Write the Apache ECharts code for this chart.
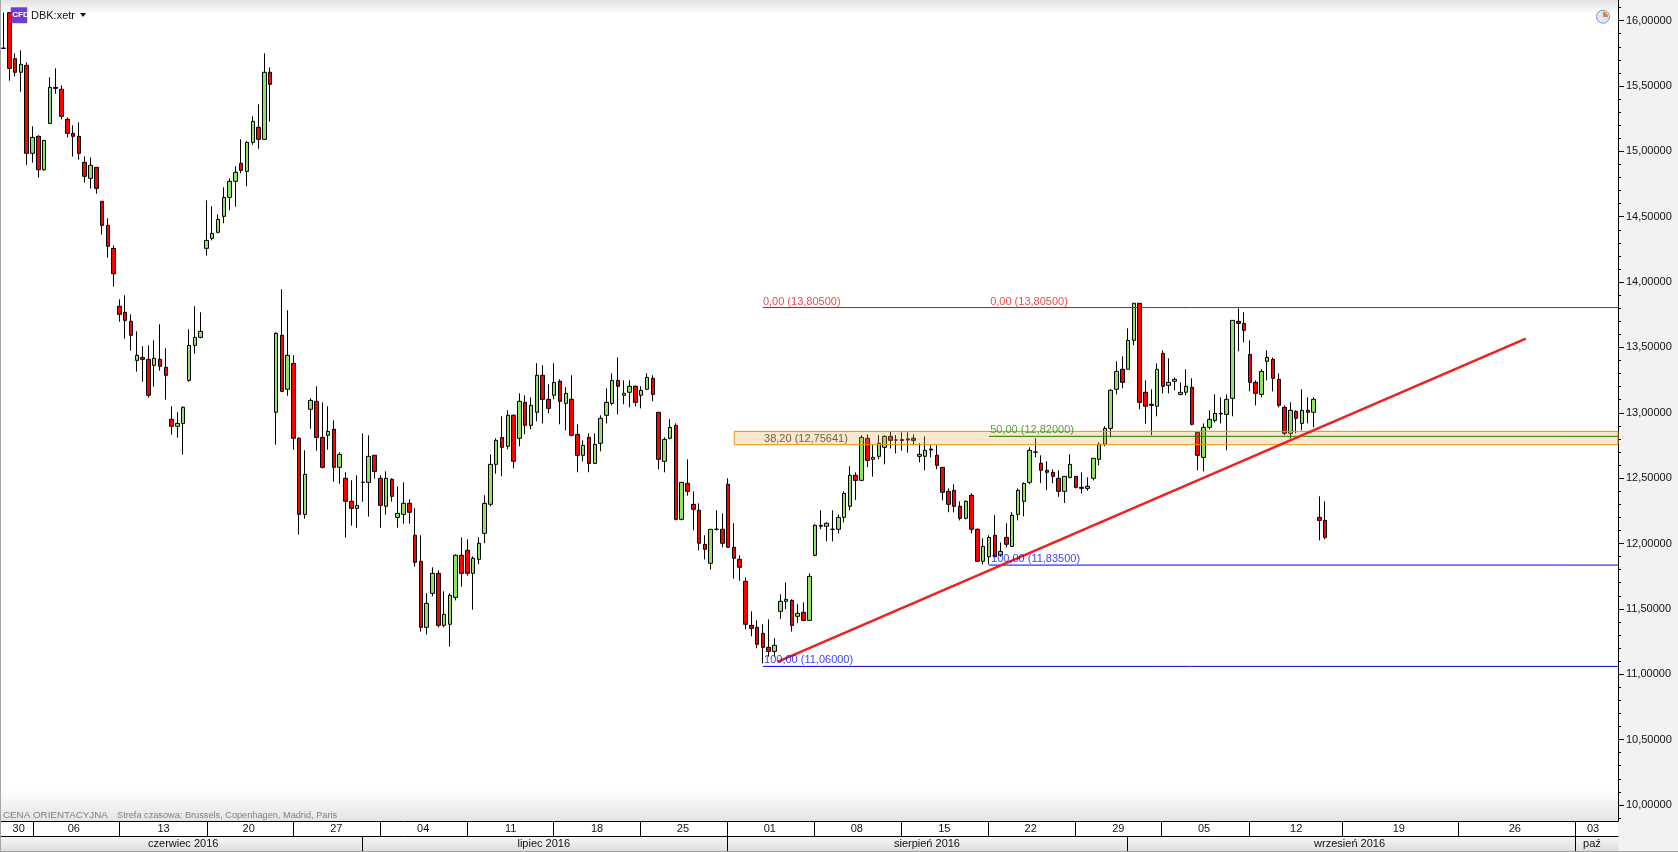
<!DOCTYPE html>
<html><head><meta charset="utf-8">
<style>html,body{margin:0;padding:0;background:#f2f2f2}#c{width:1678px;height:852px}</style>
<script src="https://cdn.jsdelivr.net/npm/echarts@6/dist/echarts.min.js"></script>
</head><body><div id="c"></div>
<script>
const direction =
"r"+"rrgrgrggrr"+"rrrrgrrrrr"+"rrgrrgrrrg"+"gggggggggg"+"rggrgrgrgr"+"rggrrgrgrr"+"grgrrgrggr"+"rrggrgggrr"+"gggggrgrgr"+"ggrrgrgrrg"+
"rggggrggrg"+"grrggrgrrr"+"rgrrrrrrrr"+"rrgggrgrgg"+"rgrgggrgrg"+"ggrrrrrggr"+"rrrrrgrrgg"+"rgrggggrrr"+"rrggrrgggg"+"ggrggrrrgr"+"ggggrrgggr"+"ggrrrrggrr"+"rgrgrgrr";
const bodyTop = [15.790,
16.061,15.709,15.666,15.658,15.107,15.115,15.084,15.490,15.490,15.475,
15.245,15.138,15.115,14.916,14.893,14.878,14.618,14.434,14.258,13.815,
13.769,13.700,13.440,13.424,13.409,13.417,13.409,13.348,12.950,12.919,
13.042,13.516,13.577,13.623,14.319,14.373,14.480,14.648,14.771,14.840,
14.909,15.069,15.230,15.184,15.605,15.605,13.608,13.593,13.440,13.378,
12.805,12.529,13.095,13.088,12.812,12.858,12.874,12.682,12.499,12.323,
12.292,12.468,12.667,12.675,12.499,12.499,12.491,12.231,12.308,12.308,
12.063,11.864,11.542,11.772,11.772,11.458,11.604,11.910,11.910,11.948,
11.887,12.002,12.307,12.606,12.789,12.812,12.981,12.981,13.088,13.080,
13.057,13.287,13.287,13.103,13.233,13.241,13.149,13.103,12.835,12.751,
12.812,12.759,12.958,13.080,13.248,13.248,13.149,13.203,13.203,13.172,
13.271,13.264,13.004,12.797,12.889,12.904,12.468,12.460,12.300,12.254,
11.994,12.109,12.109,12.109,12.453,11.971,11.879,11.711,11.374,11.359,
11.313,11.206,11.221,11.558,11.573,11.565,11.466,11.474,11.749,12.139,
12.139,12.155,12.109,12.200,12.384,12.522,12.522,12.812,12.805,12.659,
12.767,12.820,12.820,12.792,12.795,12.800,12.805,12.682,12.713,12.723,
12.675,12.583,12.399,12.407,12.285,12.323,12.369,12.109,11.978,12.047,
12.063,11.940,12.047,12.216,12.407,12.460,12.713,12.700,12.614,12.560,
12.545,12.499,12.514,12.606,12.514,12.430,12.438,12.652,12.759,12.881,
13.172,13.317,13.333,13.554,13.838,13.838,13.157,13.065,13.333,13.455,
13.233,13.256,13.157,13.203,13.195,12.851,12.889,12.950,12.996,12.996,
13.103,13.707,13.700,13.684,13.447,13.233,13.317,13.424,13.409,13.256,
13.042,13.019,13.011,13.019,13.019,13.103,12.200,12.177];
const bodyBottom = [15.788,
15.635,15.605,15.605,14.985,14.985,14.860,14.860,15.214,15.482,15.268,
15.138,15.115,14.985,14.809,14.794,14.717,14.434,14.274,14.064,13.753,
13.707,13.593,13.401,13.409,13.134,13.363,13.356,13.287,12.897,12.897,
12.919,13.248,13.516,13.577,14.258,14.335,14.381,14.503,14.648,14.771,
14.855,14.847,15.069,15.092,15.092,15.513,13.004,13.164,13.180,12.805,
12.223,12.223,13.027,12.812,12.583,12.828,12.583,12.583,12.323,12.269,
12.269,12.468,12.468,12.552,12.292,12.285,12.361,12.200,12.223,12.239,
11.856,11.359,11.359,11.619,11.374,11.374,11.382,11.588,11.772,11.772,
11.772,11.879,12.078,12.300,12.606,12.736,12.744,12.629,12.805,12.904,
12.904,13.004,13.103,13.034,13.134,13.088,13.072,12.828,12.675,12.675,
12.613,12.613,12.767,12.981,13.072,13.203,13.134,13.157,13.080,13.134,
13.180,13.141,12.644,12.629,12.805,12.185,12.185,12.399,12.262,12.002,
11.956,11.849,12.109,12.002,11.971,11.887,11.818,11.382,11.351,11.229,
11.206,11.175,11.175,11.481,11.558,11.374,11.443,11.412,11.412,11.910,
12.132,12.132,12.109,12.109,12.200,12.285,12.483,12.483,12.636,12.644,
12.667,12.736,12.789,12.792,12.787,12.792,12.789,12.667,12.667,12.715,
12.598,12.392,12.300,12.285,12.193,12.193,12.109,11.864,11.864,11.899,
11.899,11.912,11.994,11.978,12.223,12.323,12.468,12.698,12.560,12.545,
12.514,12.399,12.399,12.506,12.430,12.422,12.422,12.499,12.644,12.759,
12.881,13.180,13.233,13.333,13.554,13.080,13.050,13.057,13.050,13.203,
13.210,13.241,13.141,13.157,12.912,12.675,12.659,12.889,12.942,12.991,
12.988,13.111,13.684,13.631,13.233,13.149,13.141,13.394,13.264,13.057,
12.843,12.843,12.958,12.919,13.004,13.004,12.177,12.047];
const highs = [16.061,
16.061,15.750,15.773,15.681,15.192,15.123,15.084,15.566,15.635,15.505,
15.260,15.199,15.222,14.962,14.954,14.878,14.618,14.488,14.281,13.868,
13.899,13.753,13.623,13.509,13.516,13.554,13.677,13.493,13.050,13.004,
13.050,13.639,13.815,13.769,14.625,14.580,14.518,14.725,14.794,14.886,
15.092,15.077,15.268,15.360,15.750,15.643,13.616,13.945,13.784,13.440,
12.812,12.713,13.111,13.203,13.080,13.050,12.942,12.698,12.545,12.484,
12.522,12.843,12.828,12.675,12.522,12.552,12.499,12.437,12.468,12.338,
12.269,12.063,11.619,11.818,11.795,11.634,11.619,11.917,12.047,12.032,
11.902,12.047,12.369,12.682,12.805,12.973,13.019,12.988,13.149,13.134,
13.118,13.379,13.363,13.218,13.379,13.256,13.195,13.287,12.912,12.789,
12.843,12.843,12.981,13.187,13.302,13.424,13.248,13.248,13.210,13.203,
13.302,13.287,13.004,12.812,12.950,12.919,12.468,12.644,12.399,12.307,
12.063,12.109,12.254,12.231,12.499,12.155,11.910,11.741,11.481,11.412,
11.382,11.420,11.275,11.611,11.703,11.573,11.535,11.550,11.772,12.147,
12.254,12.162,12.254,12.223,12.399,12.591,12.545,12.828,12.835,12.759,
12.828,12.828,12.858,12.830,12.851,12.851,12.835,12.767,12.820,12.751,
12.751,12.583,12.422,12.453,12.323,12.330,12.384,12.116,12.040,12.063,
12.216,12.009,12.155,12.239,12.422,12.468,12.736,12.805,12.675,12.629,
12.568,12.560,12.514,12.682,12.514,12.545,12.506,12.652,12.774,12.897,
13.180,13.394,13.432,13.646,13.838,13.838,13.248,13.180,13.378,13.478,
13.417,13.271,13.233,13.333,13.264,12.851,12.919,13.019,13.141,13.118,
13.141,13.707,13.799,13.769,13.554,13.248,13.333,13.478,13.424,13.302,
13.057,13.080,13.019,13.180,13.118,13.118,12.361,12.323];
const lows = [15.788,
15.541,15.572,15.457,14.898,14.914,14.799,14.852,15.214,15.441,15.245,
15.107,14.960,14.937,14.761,14.715,14.676,14.363,14.187,13.965,13.697,
13.567,13.475,13.315,13.238,13.116,13.200,13.322,13.101,12.833,12.810,
12.680,13.238,13.452,13.570,14.202,14.319,14.373,14.450,14.549,14.577,
14.832,14.733,15.051,15.021,15.092,15.227,12.756,13.164,13.131,12.718,
12.068,12.190,12.879,12.710,12.575,12.718,12.473,12.458,12.045,12.137,
12.121,12.320,12.206,12.496,12.121,12.221,12.320,12.121,12.152,12.152,
11.823,11.326,11.303,11.596,11.359,11.359,11.211,11.565,11.670,11.754,
11.494,11.841,12.002,12.285,12.534,12.514,12.721,12.575,12.744,12.835,
12.874,12.935,12.919,12.996,13.103,12.912,12.866,12.820,12.545,12.629,
12.545,12.613,12.705,12.919,13.057,12.988,13.065,13.042,13.050,13.034,
13.180,13.088,12.568,12.545,12.797,12.177,12.177,12.366,12.101,11.948,
11.879,11.800,12.101,11.971,11.971,11.731,11.716,11.344,11.290,11.198,
11.083,11.135,11.135,11.423,11.499,11.326,11.390,11.405,11.412,11.902,
12.109,12.017,12.017,12.078,12.162,12.254,12.333,12.476,12.583,12.512,
12.644,12.606,12.728,12.690,12.710,12.695,12.751,12.621,12.560,12.659,
12.568,12.330,12.239,12.239,12.177,12.185,12.078,11.864,11.841,11.840,
11.899,11.899,11.971,11.978,12.177,12.208,12.453,12.659,12.463,12.410,
12.460,12.358,12.310,12.499,12.422,12.384,12.404,12.483,12.598,12.744,
12.812,13.141,13.187,13.333,13.516,13.027,12.917,12.828,12.973,13.149,
13.149,13.172,13.134,13.134,12.904,12.560,12.552,12.874,12.927,12.919,
12.713,12.973,13.470,13.539,13.164,13.057,13.118,13.248,13.164,13.042,
12.828,12.805,12.843,12.866,12.919,12.889,12.024,12.032];

const priceLabels = [10,10.5,11,11.5,12,12.5,13,13.5,14,14.5,15,15.5,16];
const minorTicks = [];
for (let t = 99; t <= 161; t++) minorTicks.push(t / 10);

const weekEdges = [5.59,20.51,35.6,50.5,65.45,80.5,95.3,110.4,125.3,140.3,155.3,170.4,185.3,200.3,215.4,231.5,251.4,271.6];
const weekSpots = [3.12,12.64,28.1,42.8,57.9,72.9,88.0,102.9,117.7,132.7,147.7,162.8,177.7,192.8,207.6,223.5,241.2,261.2,274.7];
const weekNames = ['30','06','13','20','27','04','11','18','25','01','08','15','22','29','05','12','19','26','03'];
const monthEdges = [62.45,125.4,194.3,271.6];
const monthSpots = [31.5,93.7,159.8,232.7,274.5];
const monthNames = ['czerwiec 2016','lipiec 2016','sierpień 2016','wrzesień 2016','paź'];

const fibLevels = [
  {v:13.805, from:131.5, color:'#f00000'},
  {v:12.82,  from:170.5, color:'#1f7f00'},
  {v:11.835, from:170.5, color:'#0000f0'},
  {v:11.06,  from:131.5, color:'#0000f0'}
];
const fibBand = {from:126.56, top:12.858, bottom:12.756};
const trendX = [134.1, 263.1];
const trendY = [11.096, 13.568];
const fibTexts = [
  [131.5,13.846,'0,00 (13,80500)','#f01818'],
  [170.7,13.846,'0,00 (13,80500)','#f01818'],
  [131.7,12.798,'38,20 (12,75641)','#4a3a20'],
  [170.7,12.867,'50,00 (12,82000)','#2a8a10'],
  [170.85,11.880,'100,00 (11,83500)','#0808f8'],
  [131.7,11.107,'100,00 (11,06000)','#0808f8']
];

const FONT = '"Liberation Sans", sans-serif';
const BARS = 279, X0 = 0.6, BAND = 5.797, YMIN = 9.875, YMAX = 16.158, PLOT_H = 821.3;
const PLOT_W = BARS * BAND;

const categories = Array.from({length: BARS}, (_, i) => String(i));
const candles = bodyTop.map((t, i) => direction[i] === 'g'
  ? [bodyBottom[i], t, lows[i], highs[i]]
  : [t, bodyBottom[i], lows[i], highs[i]]);

const lookup = (keys, names) => (v) => { const i = keys.indexOf(v); return i < 0 ? '' : names[i]; };

const chart = echarts.init(document.getElementById('c'), null, {renderer: 'canvas'});
const lineSeries = fibLevels.map((f) => ({
  type: 'line', xAxisIndex: 1, yAxisIndex: 0, symbol: 'none', z: 6, silent: true, animation: false,
  lineStyle: {color: f.color, width: 1}, data: [[f.from, f.v], [BARS, f.v]]
}));

chart.setOption({
  animation: false,
  backgroundColor: '#f2f2f2',
  textStyle: {fontFamily: FONT},
  grid: {
    show: true, left: X0, top: 0, width: PLOT_W, height: PLOT_H, borderWidth: 0, containLabel: false,
    backgroundColor: {type: 'linear', x: 0, y: 0, x2: 0, y2: 1, colorStops: [
      {offset: 0, color: '#e2e2e2'}, {offset: 0.018, color: '#ffffff'},
      {offset: 0.962, color: '#ffffff'}, {offset: 1, color: '#e4e4e4'}]}
  },
  xAxis: [
    {type: 'category', data: categories, boundaryGap: true, show: false},
    {type: 'value', min: 0, max: BARS, position: 'bottom', splitLine: {show: false},
     axisLine: {show: true, onZero: false, lineStyle: {color: '#000', width: 1}},
     axisTick: {show: true, customValues: weekEdges, length: 15, lineStyle: {color: '#000', width: 1}},
     axisLabel: {show: true, customValues: weekSpots, margin: 2, color: '#111', fontSize: 11, fontFamily: FONT,
       formatter: lookup(weekSpots, weekNames)}},
    {type: 'value', min: 0, max: BARS, position: 'bottom', offset: 15, splitLine: {show: false},
     axisLine: {show: true, onZero: false, lineStyle: {color: '#000', width: 1}},
     axisTick: {show: true, customValues: monthEdges, length: 15, lineStyle: {color: '#000', width: 1}},
     axisLabel: {show: true, customValues: monthSpots, margin: 2, color: '#111', fontSize: 11, fontFamily: FONT,
       formatter: lookup(monthSpots, monthNames)}}
  ],
  yAxis: [
    {type: 'value', position: 'right', min: YMIN, max: YMAX, scale: true, splitLine: {show: false},
     axisLine: {show: true, onZero: false, lineStyle: {color: '#000', width: 1}},
     axisTick: {show: true, customValues: priceLabels, length: 6, lineStyle: {color: '#000', width: 1}},
     axisLabel: {show: true, customValues: priceLabels, margin: 8, padding: [2, 0, 0, 0], color: '#111', fontSize: 11, fontFamily: FONT,
       formatter: (v) => v.toFixed(5).replace('.', ',')}},
    {type: 'value', position: 'right', min: YMIN, max: YMAX, scale: true, splitLine: {show: false},
     axisLine: {show: false, onZero: false},
     axisTick: {show: true, customValues: minorTicks, length: 3, lineStyle: {color: '#000', width: 1}},
     axisLabel: {show: false}}
  ],
  series: [
    {type: 'candlestick', xAxisIndex: 0, yAxisIndex: 0, barWidth: 4, z: 2, silent: true, data: candles,
     itemStyle: {color: '#8fe365', color0: '#ff0000', borderColor: '#000', borderColor0: '#000', borderColorDoji: '#000', borderWidth: 1}},
    {type: 'line', xAxisIndex: 1, yAxisIndex: 0, symbol: 'none', z: 5, silent: true, data: [],
     markArea: {silent: true, z: 5,
       itemStyle: {color: 'rgba(240,170,80,0.28)', borderColor: '#e8920c', borderWidth: 1},
       data: [[{coord: [fibBand.from, fibBand.top]}, {coord: [BARS, fibBand.bottom]}]]}},
    ...lineSeries,
    {type: 'line', xAxisIndex: 1, yAxisIndex: 0, symbol: 'none', z: 7, silent: true,
     lineStyle: {color: '#ee2020', width: 2.5}, data: trendX.map((x, i) => [x, trendY[i]])},
    {type: 'scatter', xAxisIndex: 1, yAxisIndex: 0, symbolSize: 0, z: 8, silent: true,
     data: fibTexts.map((t) => ({value: [t[0], t[1]], label: {color: t[3], formatter: t[2]}})),
     label: {show: true, position: 'right', distance: 0, fontSize: 11, fontFamily: FONT}}
  ],
  graphic: [
    {type: 'rect', z: -1, shape: {x: 0, y: 821.3, width: 1618, height: 15}, style: {fill: '#ffffff'}},
    {type: 'rect', z: -1, shape: {x: 0, y: 836.3, width: 1618, height: 15},
     style: {fill: {type: 'linear', x: 0, y: 0, x2: 0, y2: 1, colorStops: [{offset: 0, color: '#f8f8f8'}, {offset: 1, color: '#dcdcdc'}]}}},
    {type: 'rect', z: 20, shape: {x: 0, y: 851, width: 1678, height: 1}, style: {fill: '#a0a0a0'}},
    {type: 'rect', z: 20, shape: {x: 0, y: 0, width: 1, height: 851}, style: {fill: '#a6a6a6'}},
    {type: 'rect', z: 20, shape: {x: 11, y: 7.5, width: 16, height: 15.5}, style: {fill: 'rgba(98,40,205,0.9)', stroke: '#5a5ad0', lineWidth: 0.5}},
    {type: 'text', z: 21, x: 12.3, y: 11, style: {text: 'CFD', fill: '#ffffff', font: 'bold 8px ' + FONT}},
    {type: 'text', z: 21, x: 31, y: 10, style: {text: 'DBK:xetr', fill: '#111', font: '11px ' + FONT}},
    {type: 'polygon', z: 21, shape: {points: [[80, 13], [86, 13], [83, 17]]}, style: {fill: '#111'}},
    {type: 'text', z: 21, x: 3, y: 810, style: {text: 'CENA ORIENTACYJNA', fill: '#808080', font: '9.8px ' + FONT}},
    {type: 'text', z: 21, x: 117, y: 811, style: {text: 'Strefa czasowa: Brussels, Copenhagen, Madrid, Paris', fill: '#808080', font: '9.2px ' + FONT}},
    {type: 'circle', z: 21, shape: {cx: 1603, cy: 16.7, r: 6.5}, style: {fill: '#d8e8f6', stroke: '#7d98b8', lineWidth: 1}},
    {type: 'sector', z: 22, shape: {cx: 1603, cy: 16.7, r: 5, r0: 0, startAngle: -Math.PI / 2, endAngle: 0.1}, style: {fill: '#f07a3a'}}
  ]
});
</script></body></html>
